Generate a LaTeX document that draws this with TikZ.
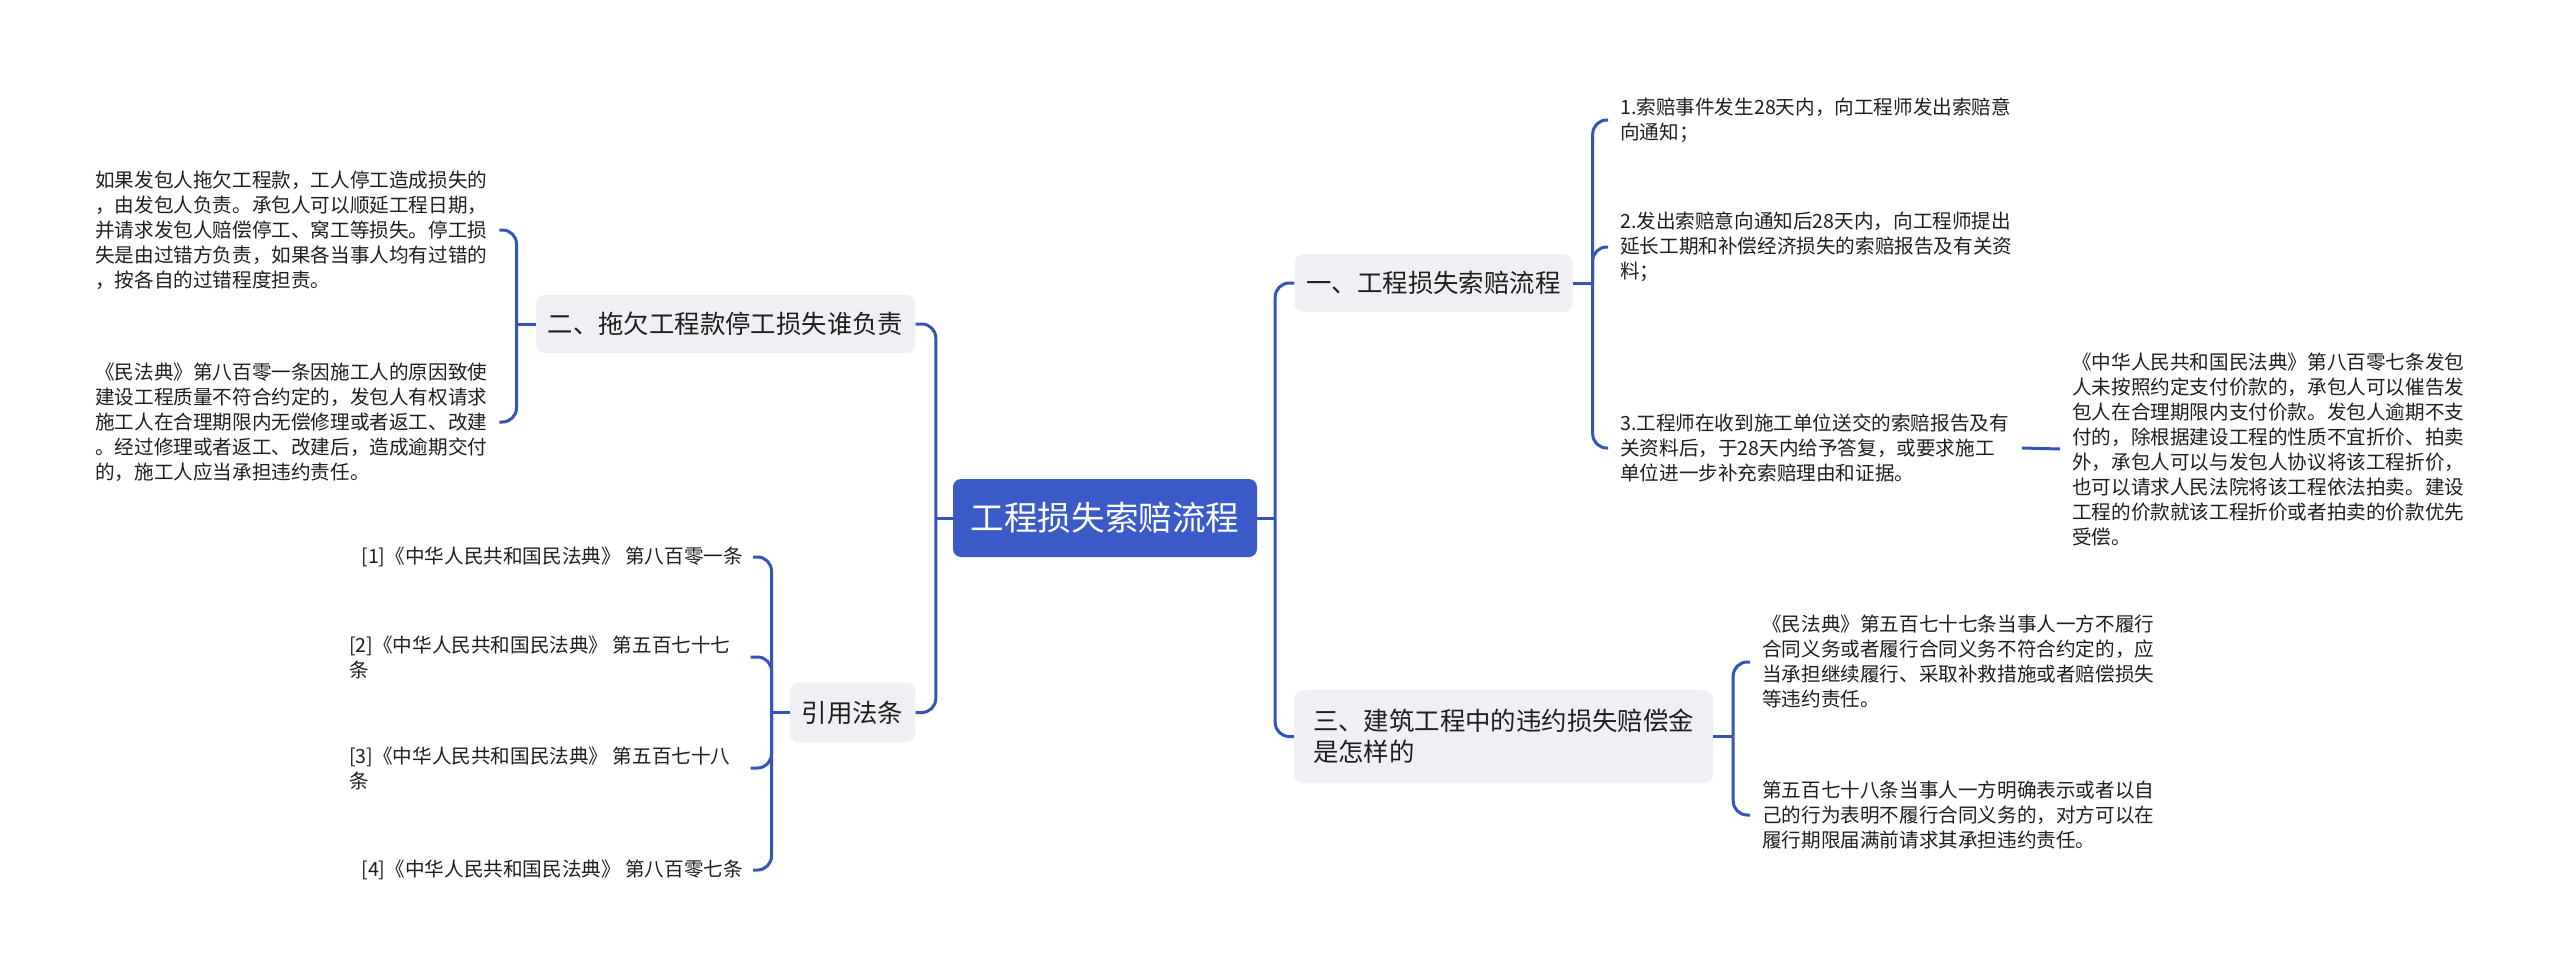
\documentclass[tikz,border=0pt]{standalone}
\usepackage{fontspec}
\setmainfont{Noto Sans CJK SC}
\definecolor{lineblue}{HTML}{3554BA}
\definecolor{rootblue}{HTML}{3B5BC9}
\definecolor{boxgray}{HTML}{EEF0F4}
\definecolor{txt}{HTML}{1E1E1E}
\begin{document}
\begin{tikzpicture}[x=1pt,y=-1pt,
  conn/.style={draw=lineblue, line width=3pt, rounded corners=14pt},
  rootbox/.style={fill=rootblue, rounded corners=8pt, text=white, font=\fontsize{33.6}{40}\selectfont, minimum width=304pt, minimum height=78pt, inner sep=0pt},
  branch/.style={fill=boxgray, rounded corners=9pt, text=txt, font=\fontsize{25.4}{31}\selectfont, inner xsep=12pt, inner ysep=0pt, minimum height=58pt, align=left},
  leaf/.style={text=txt, font=\fontsize{19.6}{25}\selectfont, inner sep=0pt, align=left},
]
\useasboundingbox (0,0) rectangle (2560,977);

% root and branches
\node[rootbox] (root) at (1105,518) {工程损失索赔流程};
\node[branch] (b2) at (725.5,324) {二、拖欠工程款停工损失谁负责};
\node[branch, minimum height=60pt] (bref) at (852.5,712.5) {引用法条};
\node[branch] (b1) at (1433.5,283) {一、工程损失索赔流程};
\node[branch, minimum height=93pt, minimum width=419pt, inner xsep=13pt] (b3) at (1503.5,736.5) {三、建筑工程中的违约损失赔偿金\\是怎样的};

% left leaves
\node[leaf, anchor=west] (l1) at (95,230) {如果发包人拖欠工程款，工人停工造成损失的\\，由发包人负责。承包人可以顺延工程日期，\\并请求发包人赔偿停工、窝工等损失。停工损\\失是由过错方负责，如果各当事人均有过错的\\，按各自的过错程度担责。};
\node[leaf, anchor=west] (l2) at (95,422) {《民法典》第八百零一条因施工人的原因致使\\建设工程质量不符合约定的，发包人有权请求\\施工人在合理期限内无偿修理或者返工、改建\\。经过修理或者返工、改建后，造成逾期交付\\的，施工人应当承担违约责任。};

% references
\node[leaf, anchor=east] (r1) at (743,557) {[1]《中华人民共和国民法典》 第八百零一条};
\node[leaf, anchor=west] (r2) at (349,657) {[2]《中华人民共和国民法典》 第五百七十七\\条};
\node[leaf, anchor=west] (r3) at (349,768) {[3]《中华人民共和国民法典》 第五百七十八\\条};
\node[leaf, anchor=east] (r4) at (743,870) {[4]《中华人民共和国民法典》 第八百零七条};

% right leaves of branch 1
\node[leaf, anchor=west] (c1) at (1620,120) {1.索赔事件发生28天内，向工程师发出索赔意\\向通知；};
\node[leaf, anchor=west] (c2) at (1620,247) {2.发出索赔意向通知后28天内，向工程师提出\\延长工期和补偿经济损失的索赔报告及有关资\\料；};
\node[leaf, anchor=west] (c3) at (1620,448) {3.工程师在收到施工单位送交的索赔报告及有\\关资料后，于28天内给予答复，或要求施工\\单位进一步补充索赔理由和证据。};
\node[leaf, anchor=west] (law) at (2072,449) {《中华人民共和国民法典》第八百零七条发包\\人未按照约定支付价款的，承包人可以催告发\\包人在合理期限内支付价款。发包人逾期不支\\付的，除根据建设工程的性质不宜折价、拍卖\\外，承包人可以与发包人协议将该工程折价，\\也可以请求人民法院将该工程依法拍卖。建设\\工程的价款就该工程折价或者拍卖的价款优先\\受偿。};

% leaves of branch 3
\node[leaf, anchor=west] (s1) at (1762,662) {《民法典》第五百七十七条当事人一方不履行\\合同义务或者履行合同义务不符合约定的，应\\当承担继续履行、采取补救措施或者赔偿损失\\等违约责任。};
\node[leaf, anchor=west] (s2) at (1762,815) {第五百七十八条当事人一方明确表示或者以自\\己的行为表明不履行合同义务的，对方可以在\\履行期限届满前请求其承担违约责任。};

% junction points
\coordinate (jl) at ([xshift=-17pt]root.west);
\coordinate (jr) at ([xshift=18pt]root.east);
\coordinate (j2) at ([xshift=-19pt]b2.west);
\coordinate (jref) at ([xshift=-18pt]bref.west);
\coordinate (j1) at ([xshift=20pt]b1.east);
\coordinate (j3) at ([xshift=20pt]b3.east);

% connectors
\draw[conn] (root.west) -- (jl);
\draw[conn] (jl) |- (b2.east);
\draw[conn] (jl) |- (bref.east);
\draw[conn] (root.east) -- (jr);
\draw[conn] (jr) |- (b1.west);
\draw[conn] (jr) |- (b3.west);

\draw[conn] (b2.west) -- (j2);
\draw[conn] (j2) |- ([xshift=12pt]l1.east);
\draw[conn] (j2) |- ([xshift=12pt]l2.east);

\draw[conn] (bref.west) -- (jref);
\draw[conn] (jref) |- ([xshift=10pt]r1.east);
\draw[conn] (jref) |- ([xshift=20pt]r2.east);
\draw[conn] (jref) |- ([xshift=20pt]r3.east);
\draw[conn] (jref) |- ([xshift=10pt]r4.east);

\draw[conn] (b1.east) -- (j1);
\draw[conn] (j1) |- ([xshift=-12pt]c1.west);
\draw[conn] (j1) |- ([xshift=-12pt]c2.west);
\draw[conn] (j1) |- ([xshift=-12pt]c3.west);
\draw[conn] ([xshift=13pt]c3.east) -- ([xshift=-12pt]law.west);

\draw[conn] (b3.east) -- (j3);
\draw[conn] (j3) |- ([xshift=-12pt]s1.west);
\draw[conn] (j3) |- ([xshift=-12pt]s2.west);
\end{tikzpicture}
\end{document}
